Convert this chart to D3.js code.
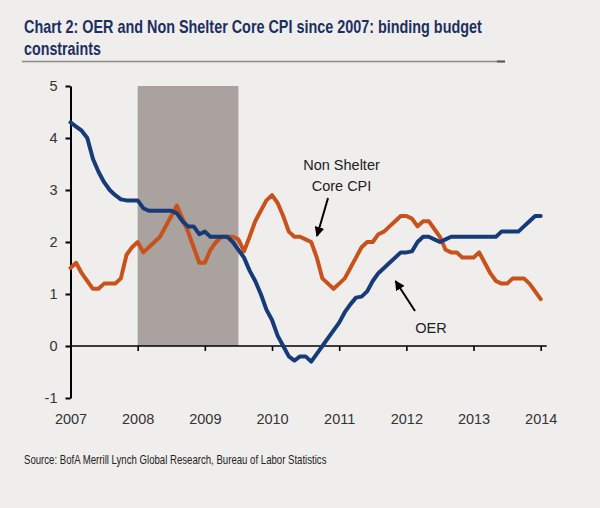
<!DOCTYPE html>
<html>
<head>
<meta charset="utf-8">
<script src="https://cdn.jsdelivr.net/npm/d3@7"></script>
<style>
  html, body { margin: 0; padding: 0; background: #efeeec; }
  svg { display: block; }
</style>
</head>
<body>
<svg id="chart" width="600" height="508"></svg>
<script>
// ---- Data (monthly, Jan 2007 .. Jan 2014) ----
const startYear = 2007;
const oer = [
  4.3, 4.22, 4.14, 4.0, 3.6, 3.35, 3.15, 3.0, 2.9, 2.82, 2.8, 2.8,
  2.8, 2.65, 2.6, 2.6, 2.6, 2.6, 2.6, 2.55, 2.4, 2.3, 2.3, 2.15,
  2.2, 2.1, 2.1, 2.1, 2.1, 2.0, 1.85, 1.7, 1.45, 1.25, 1.0, 0.7,
  0.5, 0.2, 0.0, -0.2, -0.28, -0.2, -0.2, -0.3, -0.15, 0.0, 0.15, 0.3,
  0.45, 0.65, 0.8, 0.93, 0.95, 1.05, 1.25, 1.4, 1.5, 1.6, 1.7, 1.8,
  1.8, 1.82, 2.0, 2.1, 2.1, 2.05, 2.0, 2.05, 2.1, 2.1, 2.1, 2.1,
  2.1, 2.1, 2.1, 2.1, 2.1, 2.2, 2.2, 2.2, 2.2, 2.3, 2.4, 2.5,
  2.5
];
const nonShelter = [
  1.5, 1.6, 1.4, 1.25, 1.1, 1.1, 1.2, 1.2, 1.2, 1.3, 1.75, 1.9,
  2.0, 1.8, 1.9, 2.0, 2.1, 2.3, 2.5, 2.7, 2.45, 2.2, 1.9, 1.6,
  1.6, 1.85, 2.0, 2.1, 2.1, 2.1, 2.05, 1.82, 2.1, 2.4, 2.6, 2.8,
  2.9, 2.75, 2.5, 2.2, 2.1, 2.1, 2.05, 2.0, 1.7, 1.3, 1.2, 1.1,
  1.2, 1.3, 1.5, 1.7, 1.9, 2.0, 2.0, 2.15, 2.2, 2.3, 2.4, 2.5,
  2.5, 2.45, 2.3, 2.4, 2.4, 2.25, 2.1, 1.85, 1.8, 1.8, 1.7, 1.7,
  1.7, 1.8, 1.6, 1.4, 1.25, 1.2, 1.2, 1.3, 1.3, 1.3, 1.2, 1.05,
  0.9
];
const recession = [2008.0, 2009.5];
const yearTicks = [2007, 2008, 2009, 2010, 2011, 2012, 2013, 2014];
const valueTicks = [-1, 0, 1, 2, 3, 4, 5];

const titleLines = ["Chart 2: OER and Non Shelter Core CPI since 2007: binding budget", "constraints"];
const sourceText = "Source: BofA Merrill Lynch Global Research, Bureau of Labor Statistics";

// ---- Layout ----
const svg = d3.select("#chart");
const x = d3.scaleLinear().domain([2007, 2014]).range([70.5, 540.7]);
const y = d3.scaleLinear().domain([-1, 5]).range([398, 86]);
const xEnd = 546.7;

const narrow = "'Liberation Sans Narrow', 'Arial Narrow', 'Liberation Sans', Arial, sans-serif";
const sans = "'Liberation Sans', Arial, Helvetica, sans-serif";

// text squeezed horizontally to a target width (condensed look)
function fitText(xPos, yPos, str, size, weight, fill, width) {
  const g = svg.append("g").attr("transform", `translate(${xPos},${yPos})`);
  const t = g.append("text").attr("x", 0).attr("y", 0)
    .attr("font-family", narrow).attr("font-weight", weight).attr("font-size", size)
    .attr("fill", fill).text(str);
  const w = t.node().getComputedTextLength();
  const s = w > 0 ? width / w : 1;
  g.attr("transform", `translate(${xPos},${yPos}) scale(${s},1)`);
  return t;
}

// Title
fitText(24, 33, titleLines[0], 19, "bold", "#1c2f5f", 458);
fitText(24, 55, titleLines[1], 19, "bold", "#1c2f5f", 77);
svg.append("line").attr("x1", 22).attr("x2", 505).attr("y1", 61.5).attr("y2", 61.5)
  .attr("stroke", "#8a8a8a").attr("stroke-width", 1.5);
svg.append("line").attr("x1", 497).attr("x2", 505).attr("y1", 61.5).attr("y2", 61.5)
  .attr("stroke", "#555").attr("stroke-width", 2);

// Recession shading
svg.append("rect")
  .attr("x", x(recession[0])).attr("width", x(recession[1]) - x(recession[0]))
  .attr("y", y(5)).attr("height", y(0) - y(5))
  .attr("fill", "#a9a29e");

// Y axis
const yAxis = svg.append("g").attr("transform", `translate(${x(2007)},0)`)
  .call(d3.axisLeft(y).tickValues(valueTicks).tickSize(5).tickSizeOuter(0).tickPadding(8).tickFormat(d => String(d)));
yAxis.select(".domain").attr("stroke", "#000").attr("stroke-width", 2);
yAxis.selectAll(".tick line").attr("stroke", "#000").attr("stroke-width", 2);
yAxis.selectAll("text").attr("font-family", sans).attr("font-size", 14.5).attr("fill", "#333");

// X axis on zero line
const xAxis = svg.append("g").attr("transform", `translate(0,${y(0)})`)
  .call(d3.axisBottom(x).tickValues(yearTicks).tickSize(5).tickSizeOuter(0).tickPadding(63).tickFormat(d => String(d)));
xAxis.select(".domain").attr("d", `M${x(2007)},0H${xEnd}`).attr("stroke", "#000").attr("stroke-width", 1.6);
xAxis.selectAll(".tick line").attr("stroke", "#000").attr("stroke-width", 1.6);
xAxis.selectAll("text").attr("font-family", sans).attr("font-size", 14.5).attr("fill", "#333");

// Lines
const line = d3.line()
  .x((d, i) => x(startYear + i / 12))
  .y(d => y(d));

svg.append("path").datum(nonShelter)
  .attr("d", line).attr("fill", "none")
  .attr("stroke", "#c8521c").attr("stroke-width", 4)
  .attr("stroke-linejoin", "round").attr("stroke-linecap", "round");
svg.append("path").datum(oer)
  .attr("d", line).attr("fill", "none")
  .attr("stroke", "#163b78").attr("stroke-width", 4)
  .attr("stroke-linejoin", "round").attr("stroke-linecap", "round");

// Annotations
const defs = svg.append("defs");
defs.append("marker").attr("id", "arrow").attr("viewBox", "0 0 10 10")
  .attr("refX", 9).attr("refY", 5).attr("markerWidth", 5).attr("markerHeight", 5)
  .attr("markerUnits", "strokeWidth").attr("orient", "auto")
  .append("path").attr("d", "M0,0L10,5L0,10z").attr("fill", "#000");

svg.append("text").attr("x", 341.5).attr("y", 170)
  .attr("text-anchor", "middle").attr("font-family", sans).attr("font-size", 14.5).attr("fill", "#222")
  .text("Non Shelter");
svg.append("text").attr("x", 341.5).attr("y", 191)
  .attr("text-anchor", "middle").attr("font-family", sans).attr("font-size", 14.5).attr("fill", "#222")
  .text("Core CPI");
svg.append("line").attr("x1", 328).attr("y1", 198).attr("x2", 317).attr("y2", 236)
  .attr("stroke", "#000").attr("stroke-width", 2).attr("marker-end", "url(#arrow)");

svg.append("text").attr("x", 431).attr("y", 333)
  .attr("text-anchor", "middle").attr("font-family", sans).attr("font-size", 14.5).attr("fill", "#222")
  .text("OER");
svg.append("line").attr("x1", 415).attr("y1", 311).attr("x2", 395.5).attr("y2", 281)
  .attr("stroke", "#000").attr("stroke-width", 2).attr("marker-end", "url(#arrow)");

// Source
fitText(24, 464, sourceText, 12, "normal", "#222", 303);
</script>
</body>
</html>
